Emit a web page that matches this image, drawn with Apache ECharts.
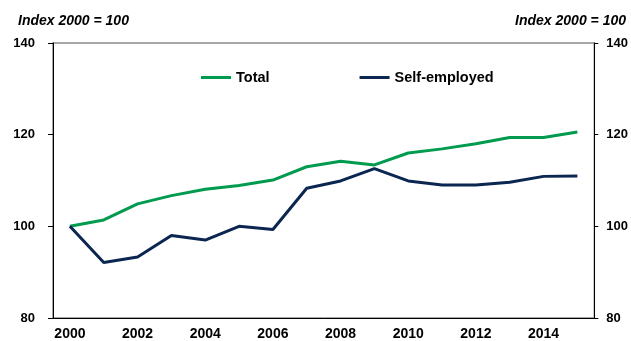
<!DOCTYPE html>
<html>
<head>
<meta charset="utf-8">
<script src="https://cdn.jsdelivr.net/npm/echarts@6/dist/echarts.min.js"></script>
<style>html,body{margin:0;padding:0;background:#fff}#c{width:631px;height:341px}</style>
</head>
<body>
<div id="c"></div>
<script>
const years = ['2000','2001','2002','2003','2004','2005','2006','2007','2008','2009','2010','2011','2012','2013','2014','2015'];
const total = [100, 101.4, 104.9, 106.7, 108.1, 108.9, 110.1, 113.0, 114.2, 113.4, 116.0, 116.9, 118.0, 119.4, 119.4, 120.6];
const selfEmployed = [100, 92.1, 93.3, 98.0, 97.0, 100.0, 99.3, 108.3, 109.9, 112.6, 109.9, 109.0, 109.0, 109.6, 110.9, 111.0];
const yMin = 80, yMax = 140, yStep = 20;
const unitLabel = 'Index 2000 = 100';

const font = 'Liberation Sans, Arial, sans-serif';
const chart = echarts.init(document.getElementById('c'), null, {renderer: 'canvas'});
const yAxisBase = (pos, tickLen, margin) => ({
  type: 'value', position: pos, min: yMin, max: yMax, interval: yStep,
  axisLine: {show: true, lineStyle: {color: '#000', width: 1}},
  axisTick: {show: true, length: tickLen, lineStyle: {color: '#000'}},
  splitLine: {show: false},
  axisLabel: {margin: margin, color: '#000', fontWeight: 'bold', fontSize: 13, fontFamily: font}
});
chart.setOption({
  animation: false,
  title: [
    {text: unitLabel, left: 18, top: 14, padding: 0, textStyle: {fontSize: 14, fontWeight: 'bold', fontStyle: 'italic', color: '#000', fontFamily: font}},
    {text: unitLabel, right: 5, top: 14, padding: 0, textStyle: {fontSize: 14, fontWeight: 'bold', fontStyle: 'italic', color: '#000', fontFamily: font}}
  ],
  legend: {
    left: 201, top: 70, padding: 0, itemWidth: 30, itemHeight: 3, itemGap: 90,
    icon: 'rect',
    textStyle: {fontSize: 14.5, fontWeight: 'bold', color: '#000', fontFamily: font},
    data: ['Total', 'Self-employed']
  },
  grid: {left: 53, right: 36, top: 43, bottom: 22, show: true, borderColor: '#8a8a8a', borderWidth: 1.5, backgroundColor: 'transparent'},
  xAxis: {
    type: 'category', data: years, boundaryGap: true,
    axisLine: {show: true, lineStyle: {color: '#000', width: 1}},
    axisTick: {show: false},
    axisLabel: {interval: 1, margin: 9, color: '#000', fontWeight: 'bold', fontSize: 14, fontFamily: font}
  },
  yAxis: [yAxisBase('left', 5, 18), yAxisBase('right', 4, 12)],
  series: [
    {name: 'Total', type: 'line', data: total, symbol: 'none', lineStyle: {color: '#009B4E', width: 3}, itemStyle: {color: '#009B4E'}},
    {name: 'Self-employed', type: 'line', data: selfEmployed, symbol: 'none', lineStyle: {color: '#0B2650', width: 3}, itemStyle: {color: '#0B2650'}}
  ]
});
</script>
</body>
</html>
